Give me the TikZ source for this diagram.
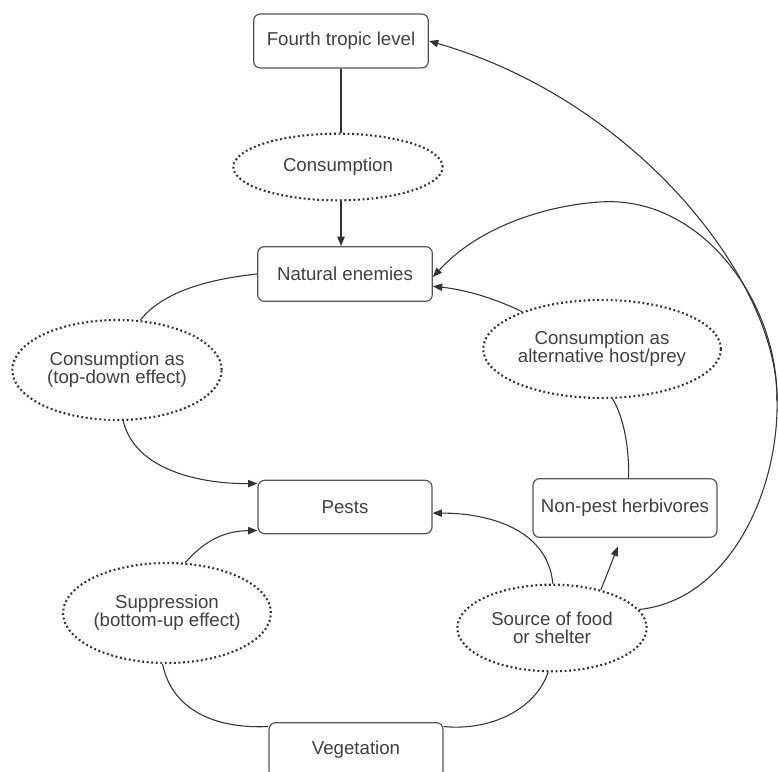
\documentclass[tikz,border=0pt]{standalone}
\usepackage{fontspec}
\setmainfont{Liberation Sans}
\usetikzlibrary{arrows.meta,shapes.geometric}
\definecolor{linec}{HTML}{333333}
\definecolor{boxc}{HTML}{555555}
\definecolor{txtc}{HTML}{404040}
\newcommand{\lbl}{\fontsize{14}{13.5}\selectfont}
\tikzset{
  bx/.style={rectangle,rounded corners=5pt,draw=boxc,line width=0.9pt,inner sep=0pt,align=center,font=\lbl,text=txtc},
  el/.style={ellipse,draw=linec,line width=1.6pt,dash pattern=on 1.4pt off 2pt,inner sep=0pt,align=center,font=\lbl,text=txtc},
  ln/.style={line width=0.8pt,linec},
  arr/.style={-{Triangle[length=7pt,width=5.5pt]},line width=0.8pt,linec}
}

\begin{document}
\begin{tikzpicture}[x=0.75pt,y=-0.75pt]
\clip (0,0) rectangle (778,771);
% boxes and effects
\node[bx,minimum width=131pt,minimum height=40.5pt] (fourth) at (341,41) {Fourth tropic level};
\node[el,minimum width=157pt,minimum height=50pt] (cons) at (338,167) {Consumption};
\node[bx,minimum width=131pt,minimum height=41pt] (nat) at (345,274) {Natural enemies};
\node[el,minimum width=157pt,minimum height=75pt] (topdown) at (117,370) {Consumption as\\(top-down effect)};
\node[el,minimum width=165pt,minimum height=73.5pt] (alt) at (602,349) {Consumption as\\alternative host/prey};
\node[bx,minimum width=130.5pt,minimum height=40pt] (pests) at (345,507) {Pests};
\node[bx,minimum width=138pt,minimum height=44pt] (nonpest) at (625,508) {Non-pest herbivores};
\node[el,minimum width=148pt,minimum height=75pt] (supp) at (167,613) {Suppression\\(bottom-up effect)};
\node[el,minimum width=142pt,minimum height=65pt] (src) at (552,628) {Source of food\\or shelter};
\node[bx,minimum width=130.5pt,minimum height=41pt] (veg) at (356,750) {Vegetation};
\coordinate (jn) at (777,400);
% top chain
\draw[ln] (fourth.south) -- (fourth.south |- cons.north);
\draw[arr] (fourth.south |- cons.south) -- (fourth.south |- nat.north);
% left side
\draw[ln] (nat.west) .. controls (200,280) and (160,295) .. (topdown.65);
\draw[arr] (topdown.277) .. controls (135,470) and (200,484) .. (pests.165);
\draw[arr] (supp.70) .. controls (205,540) and (225,531) .. (pests.195);
\draw[ln] (supp.265) .. controls (172,710) and (215,729) .. (veg.165);
% right side
\draw[ln] (src.265) .. controls (535,710) and (490,731) .. (veg.15);
\draw[arr] (src.89) .. controls (548,530) and (490,513) .. (pests.-4);
\draw[arr,shorten >=7pt] (src.38) -- (nonpest.-97);
\draw[ln] (alt.282) .. controls (625,420) and (629,450) .. (nonpest.83);
\draw[arr] (alt.155) .. controls (490,296) and (460,289) .. (nat.-8);
% long way round
\draw[ln] (src.12) .. controls (730,600) and (779,490) .. (jn);
\draw[arr] (jn) .. controls (778,280) and (635,100) .. (fourth.east);
\draw[arr] (jn) .. controls (778,300) and (700,195) .. (600,202) .. controls (550,205) and (480,225) .. (nat.-2);
\end{tikzpicture}
\end{document}
